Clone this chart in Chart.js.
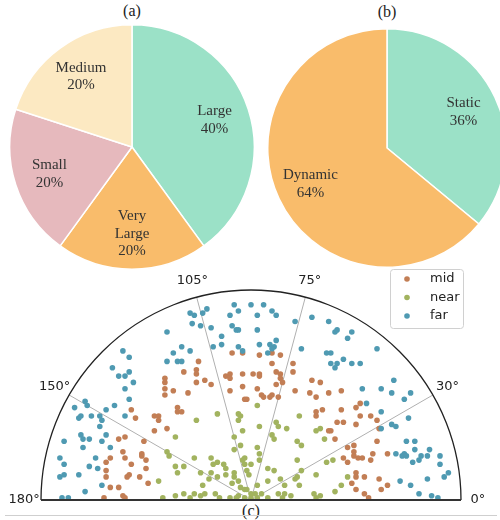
<!DOCTYPE html>
<html>
<head>
<meta charset="utf-8">
<script src="https://cdn.jsdelivr.net/npm/chart.js@4"></script>
<style>
  html, body { margin: 0; padding: 0; background: #fff; }
  body { width: 500px; height: 520px; position: relative; overflow: hidden; }
  canvas { position: absolute; }
  .cap { position: absolute; font-family: "Liberation Serif", serif; font-size: 16px; color: #222;
         transform: translate(-50%, -50%); white-space: nowrap; }
</style>
</head>
<body>
<div class="cap" style="left:132px;top:11px">(a)</div>
<div class="cap" style="left:387px;top:12px">(b)</div>
<div class="cap" style="left:251px;top:511px">(c)</div>
<canvas id="sizePie" width="264" height="246" style="left:0;top:24px"></canvas>
<canvas id="motionPie" width="240" height="240" style="left:267px;top:28px"></canvas>
<canvas id="distScatter" width="500" height="260" style="left:0;top:260px"></canvas>
<script>
// (a) object size
const sizeLabels = ["Large", "Very\nLarge", "Small", "Medium"];
const sizeValues = [40, 20, 20, 20];
// (b) motion
const motionLabels = ["Static", "Dynamic"];
const motionValues = [36, 64];

// (c) points, x/y in units of the outer radius (center of the half circle = 0,0)
const midPoints = [
  [-0.41,0.58],[-0.41,0.56],[-0.41,0.53],[-0.37,0.52],[-0.41,0.50],
  [-0.09,0.70],[-0.04,0.70],[0.04,0.69],[0.10,0.70],[0.14,0.69],[-0.25,0.66],[-0.32,0.61],[-0.26,0.62],
  [-0.26,0.60],[-0.22,0.57],[-0.26,0.56],[-0.19,0.55],[-0.30,0.51],[-0.10,0.60],[-0.12,0.59],[-0.10,0.58],
  [-0.04,0.60],[0.01,0.60],[0.04,0.60],[0.04,0.59],[0.10,0.65],[0.12,0.61],[0.14,0.60],[0.14,0.58],
  [0.15,0.56],[0.12,0.55],[0.20,0.65],[0.20,0.61],[0.29,0.57],[-0.10,0.52],[-0.04,0.54],[0.03,0.53],
  [0.10,0.50],[0.05,0.50],[0.21,0.52],[0.28,0.51],[0.31,0.49],[0.33,0.56],[0.37,0.51],[0.43,0.52],
  [-0.57,0.43],[-0.55,0.39],[-0.46,0.40],[-0.44,0.40],[-0.44,0.38],[-0.46,0.33],[-0.40,0.34],[-0.35,0.44],
  [-0.35,0.42],[-0.33,0.42],[-0.63,0.29],[-0.60,0.30],[-0.51,0.28],[-0.61,0.23],[-0.60,0.20],[-0.67,0.20],
  [-0.69,0.18],[-0.69,0.14],[-0.69,0.11],[-0.57,0.17],[-0.58,0.12],[-0.59,0.11],[-0.52,0.22],[-0.52,0.21],
  [-0.50,0.19],[-0.50,0.15],[-0.53,0.11],[-0.49,0.08],[-0.67,0.06],[-0.63,0.06],[-0.70,0.01],[-0.61,0.02],
  [-0.60,0.01],[-0.03,0.48],[-0.02,0.48],[0.06,0.49],[0.09,0.49],[0.13,0.49],[0.31,0.40],[0.31,0.42],
  [0.34,0.43],[0.43,0.43],[0.50,0.44],[0.52,0.46],[0.52,0.40],[0.57,0.40],[0.41,0.37],[0.44,0.37],
  [0.50,0.36],[0.60,0.38],[0.61,0.34],[0.38,0.33],[0.37,0.33],[0.40,0.29],[0.60,0.28],[0.46,0.25],
  [0.49,0.26],[0.49,0.23],[0.49,0.21],[0.51,0.20],[0.53,0.20],[0.58,0.22],[0.57,0.19],[0.65,0.22],
  [0.44,0.20],[0.46,0.18],[0.50,0.13],[0.50,0.11],[0.54,0.11],[0.61,0.10],[0.48,0.08],[0.50,0.05],
  [0.62,0.05],[0.65,0.07],[0.54,0.03],[0.56,0.01]
];
const nearPoints = [
  [-0.36,0.30],[-0.40,0.23],[-0.39,0.21],[-0.36,0.16],[-0.35,0.13],[-0.44,0.09],[-0.42,0.01],[-0.36,0.02],
  [-0.16,0.41],[-0.26,0.38],[-0.06,0.41],[-0.05,0.40],[-0.06,0.38],[0.03,0.45],[-0.04,0.33],[0.04,0.35],
  [0.12,0.37],[0.13,0.35],[0.17,0.34],[0.23,0.40],[0.31,0.33],[0.10,0.31],[0.11,0.29],[-0.08,0.30],
  [-0.05,0.26],[-0.08,0.24],[0.03,0.25],[0.04,0.22],[0.22,0.28],[0.24,0.26],[-0.27,0.20],[-0.32,0.16],
  [-0.19,0.20],[-0.18,0.17],[-0.16,0.18],[-0.13,0.17],[-0.12,0.15],[-0.12,0.12],[-0.08,0.13],[-0.03,0.20],
  [-0.04,0.19],[-0.03,0.17],[0.00,0.17],[0.04,0.19],[-0.02,0.14],[-0.01,0.12],[0.08,0.15],[0.11,0.14],
  [0.22,0.19],[0.24,0.14],[-0.24,0.13],[-0.19,0.13],[-0.16,0.11],[-0.20,0.10],[-0.23,0.07],[-0.09,0.08],
  [-0.06,0.09],[-0.08,0.11],[0.03,0.07],[0.08,0.09],[0.14,0.10],[0.16,0.07],[0.21,0.10],[0.23,0.07],
  [0.31,0.12],[0.22,0.11],[-0.27,0.03],[-0.24,0.02],[-0.22,0.03],[-0.17,0.03],[-0.05,0.06],[-0.03,0.05],
  [-0.02,0.05],[0.00,0.03],[0.02,0.03],[0.05,0.03],[-0.06,0.02],[-0.07,0.01],[-0.03,0.01],[0.00,0.01],
  [0.03,0.01],[0.13,0.03],[0.15,0.01],[0.16,0.03],[0.19,0.02],[-0.29,0.01],[-0.32,0.03],[-0.15,0.01],
  [-0.10,0.01],[0.08,0.01],[0.30,0.03],[0.31,0.01],[0.33,0.34],[0.35,0.29],[0.36,0.18],[0.39,0.19],
  [0.46,0.11],[0.43,0.07],[0.40,0.04],[0.33,0.02]
];
const farPoints = [
  [-0.40,0.80],[-0.61,0.71],[-0.58,0.68],[-0.66,0.63],[-0.58,0.61],[-0.63,0.59],[-0.60,0.59],[-0.56,0.56],
  [-0.60,0.53],[-0.40,0.66],[-0.37,0.70],[-0.35,0.66],[-0.29,0.89],[-0.27,0.88],[-0.23,0.89],[-0.21,0.91],
  [-0.28,0.84],[-0.24,0.83],[-0.19,0.82],[-0.08,0.93],[-0.06,0.90],[0.00,0.93],[0.06,0.93],[0.10,0.90],
  [0.12,0.88],[-0.10,0.88],[0.03,0.88],[-0.09,0.83],[-0.07,0.81],[-0.06,0.81],[0.03,0.81],[-0.14,0.78],
  [-0.14,0.74],[0.21,0.85],[-0.33,0.73],[-0.29,0.71],[-0.18,0.73],[-0.06,0.73],[-0.04,0.71],[0.04,0.74],
  [0.09,0.74],[0.11,0.73],[0.12,0.76],[0.08,0.70],[0.10,0.72],[0.24,0.72],[-0.33,0.66],[0.29,0.87],
  [0.37,0.85],[0.40,0.80],[0.41,0.81],[0.48,0.80],[0.46,0.77],[0.36,0.70],[0.38,0.70],[0.60,0.72],
  [0.38,0.65],[0.41,0.65],[0.44,0.67],[0.40,0.63],[0.48,0.65],[0.52,0.65],[0.68,0.57],[0.53,0.53],
  [0.62,0.53],[0.67,0.51],[0.76,0.51],[-0.79,0.47],[-0.78,0.45],[-0.84,0.44],[-0.81,0.40],[-0.82,0.39],
  [-0.76,0.40],[-0.69,0.43],[-0.65,0.45],[-0.58,0.48],[-0.72,0.40],[-0.71,0.38],[-0.72,0.35],[-0.60,0.40],
  [-0.81,0.31],[-0.80,0.29],[-0.77,0.29],[-0.89,0.28],[-0.71,0.28],[-0.69,0.31],[-0.67,0.25],[-0.80,0.25],
  [-0.74,0.20],[-0.91,0.20],[-0.89,0.17],[-0.77,0.16],[-0.73,0.15],[-0.91,0.11],[-0.89,0.12],[-0.82,0.12],
  [-0.71,0.07],[-0.79,0.04],[-0.87,0.01],[-0.90,0.01],[0.55,0.46],[0.62,0.42],[0.73,0.48],[0.75,0.39],
  [0.67,0.36],[0.69,0.35],[0.62,0.34],[0.74,0.28],[0.78,0.28],[0.78,0.24],[0.73,0.22],[0.69,0.22],
  [0.72,0.21],[0.74,0.21],[0.81,0.21],[0.84,0.21],[0.85,0.24],[0.80,0.19],[0.77,0.18],[0.90,0.21],
  [0.90,0.17],[0.94,0.13],[0.92,0.11],[0.84,0.10],[0.71,0.09],[0.76,0.07],[0.80,0.03],[0.86,0.02],
  [0.89,0.01]
];
const gridAngles = [30, 75, 105, 150];
const tickAngles = [0, 30, 75, 105, 150, 180];

const MINT = "#9be1c7", ORANGE = "#f9bc6b", PINK = "#e6b9bd", CREAM = "#fce9c2";
const serif = '"Liberation Serif", "Times New Roman", serif';
const sans = '"DejaVu Sans", sans-serif';

// labels inside the slices: name + percent
const sliceLabels = {
  id: "sliceLabels",
  afterDatasetsDraw(chart) {
    const ctx = chart.ctx;
    const values = chart.data.datasets[0].data;
    const total = values.reduce((a, b) => a + b, 0);
    ctx.save();
    ctx.font = "15px " + serif;
    ctx.fillStyle = "#333";
    ctx.textAlign = "center";
    ctx.textBaseline = "middle";
    chart.getDatasetMeta(0).data.forEach((arc, i) => {
      const mid = (arc.startAngle + arc.endAngle) / 2;
      const r = arc.outerRadius * 0.71;
      const x = arc.x + Math.cos(mid) * r;
      const y = arc.y + Math.sin(mid) * r;
      const lines = chart.data.labels[i].split("\n");
      lines.push(Math.round((values[i] / total) * 100) + "%");
      lines.forEach((t, k) => ctx.fillText(t, x, y + (k - (lines.length - 1) / 2) * 17.5));
    });
    ctx.restore();
  }
};

function pieOptions() {
  return {
    responsive: false,
    animation: false,
    layout: { padding: 0 },
    plugins: { legend: { display: false }, tooltip: { enabled: false } }
  };
}

new Chart(document.getElementById("sizePie"), {
  type: "pie",
  data: {
    labels: sizeLabels,
    datasets: [{ data: sizeValues, backgroundColor: [MINT, ORANGE, PINK, CREAM],
                 borderColor: "#fff", borderWidth: 1.5, hoverOffset: 0 }]
  },
  options: pieOptions(),
  plugins: [sliceLabels]
});

new Chart(document.getElementById("motionPie"), {
  type: "pie",
  data: {
    labels: motionLabels,
    datasets: [{ data: motionValues, backgroundColor: [MINT, ORANGE],
                 borderColor: "#fff", borderWidth: 1.5, hoverOffset: 0 }]
  },
  options: pieOptions(),
  plugins: [sliceLabels]
});

// half-circle frame, spokes, angle labels and legend
const polarFrame = {
  id: "polarFrame",
  beforeDatasetsDraw(chart) {
    const { ctx, scales: { x, y } } = chart;
    const cx = x.getPixelForValue(0), cy = y.getPixelForValue(0);
    const R = x.getPixelForValue(1) - cx;
    ctx.save();
    ctx.strokeStyle = "#b0b0b0";
    ctx.lineWidth = 1;
    gridAngles.forEach((a) => {
      const t = (a * Math.PI) / 180;
      ctx.beginPath();
      ctx.moveTo(cx, cy);
      ctx.lineTo(cx + R * Math.cos(t), cy - R * Math.sin(t));
      ctx.stroke();
    });
    ctx.restore();
  },
  afterDatasetsDraw(chart) {
    const { ctx, scales: { x, y }, chartArea } = chart;
    const cx = x.getPixelForValue(0), cy = y.getPixelForValue(0);
    const R = x.getPixelForValue(1) - cx;
    ctx.save();
    // outer arc
    ctx.strokeStyle = "#222";
    ctx.lineWidth = 1.3;
    ctx.beginPath();
    ctx.arc(cx, cy, R, Math.PI, 2 * Math.PI);
    ctx.stroke();
    // base line
    ctx.strokeStyle = "#333";
    ctx.lineWidth = 2;
    ctx.beginPath();
    ctx.moveTo(cx - R, cy);
    ctx.lineTo(cx + R, cy);
    ctx.stroke();
    // faint frame line below
    ctx.strokeStyle = "#cfcfcf";
    ctx.lineWidth = 1;
    ctx.beginPath();
    ctx.moveTo(5, cy + 15.5);
    ctx.lineTo(497, cy + 15.5);
    ctx.stroke();
    // angle labels
    ctx.font = "13px " + sans;
    ctx.fillStyle = "#222";
    ctx.textAlign = "center";
    ctx.textBaseline = "middle";
    tickAngles.forEach((a) => {
      const t = (a * Math.PI) / 180;
      ctx.fillText(a + "°", cx + 1.08 * R * Math.cos(t), cy - 1.08 * R * Math.sin(t));
    });
    // legend
    const right = chartArea.right + 2, left = right - 73, top = 9;
    ctx.fillStyle = "rgba(255,255,255,0.85)";
    ctx.strokeStyle = "#d0d0d0";
    ctx.lineWidth = 1;
    ctx.beginPath();
    ctx.roundRect(left + 0.5, top + 0.5, 73, 59, 3);
    ctx.fill();
    ctx.stroke();
    ctx.textAlign = "left";
    chart.data.datasets.forEach((ds, i) => {
      const ry = top + 10 + i * 18.5;
      ctx.fillStyle = ds.backgroundColor;
      ctx.beginPath();
      ctx.arc(left + 17, ry, 2.8, 0, 2 * Math.PI);
      ctx.fill();
      ctx.fillStyle = "#222";
      ctx.fillText(ds.label, left + 40, ry);
    });
    ctx.restore();
  }
};

const toXY = (pts) => pts.map((p) => ({ x: p[0], y: p[1] }));

new Chart(document.getElementById("distScatter"), {
  type: "scatter",
  data: {
    datasets: [
      { label: "mid", data: toXY(midPoints), backgroundColor: "#c27e55", order: 3 },
      { label: "near", data: toXY(nearPoints), backgroundColor: "#a2b35f", order: 2 },
      { label: "far", data: toXY(farPoints), backgroundColor: "#4f9ab2", order: 1 }
    ]
  },
  options: {
    responsive: false,
    animation: false,
    clip: false,
    elements: { point: { radius: 2.8, borderWidth: 0, hoverRadius: 2.8 } },
    layout: { padding: { left: 41, right: 39, top: 30, bottom: 20 } },
    scales: {
      x: { type: "linear", min: -1, max: 1, display: false },
      y: { type: "linear", min: 0, max: 1, display: false }
    },
    plugins: { legend: { display: false }, tooltip: { enabled: false } }
  },
  plugins: [polarFrame]
});
</script>
</body>
</html>
